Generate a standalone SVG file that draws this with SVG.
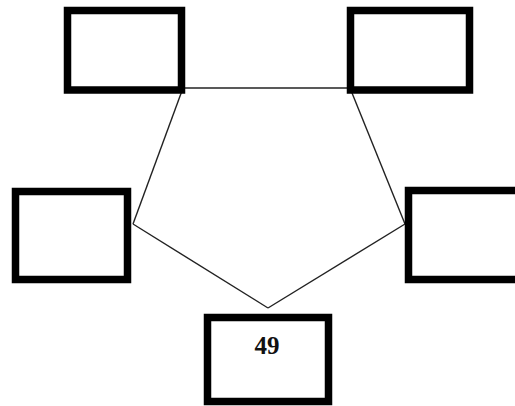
<svg xmlns="http://www.w3.org/2000/svg" width="515" height="406" viewBox="0 0 515 406">
<style>
.box{fill:#fff;stroke:#000;stroke-width:7.5}
.edge{fill:none;stroke:#222;stroke-width:1.4}
.lbl{font-family:"Liberation Serif",serif;font-weight:bold;font-size:25px;fill:#111}
</style>
<rect width="515" height="406" fill="#fff"/>
<g id="connectors">
<line class="edge" x1="183" y1="88" x2="350" y2="88"/>
<line class="edge" x1="183" y1="88" x2="133" y2="224"/>
<line class="edge" x1="350" y1="88" x2="405" y2="224"/>
<line class="edge" x1="133" y1="224" x2="268" y2="308"/>
<line class="edge" x1="405" y1="224" x2="268" y2="308"/>
</g>
<g id="node-top-left"><rect class="box" x="67.5" y="10.5" width="114" height="79.5"/></g>
<g id="node-top-right"><rect class="box" x="350.5" y="10.5" width="119" height="79.5"/></g>
<g id="node-left"><rect class="box" x="15.5" y="191.5" width="112" height="88"/></g>
<g id="node-right"><rect class="box" x="408.5" y="190.5" width="112" height="89"/></g>
<g id="node-bottom"><rect class="box" x="207.5" y="317.5" width="121" height="84"/>
<text class="lbl" x="267" y="354" text-anchor="middle">49</text></g>
</svg>
